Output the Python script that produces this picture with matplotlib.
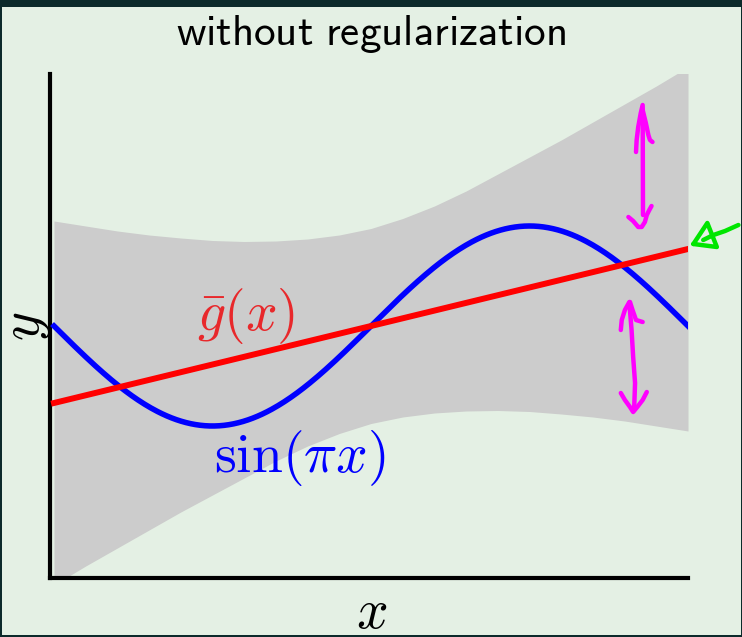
import numpy as np
import matplotlib
matplotlib.use("Agg")
import matplotlib.pyplot as plt
from matplotlib.patches import Rectangle

plt.rcParams['mathtext.fontset'] = 'cm'

# curves on x in [-1, 1]
x_band = np.round(np.arange(-1.0, 1.01, 0.1), 2)
band_upper = [1.05, 1.00, 0.95, 0.91, 0.88, 0.855, 0.845, 0.85, 0.87, 0.91, 0.975,
              1.075, 1.20, 1.35, 1.52, 1.69, 1.86, 2.04, 2.22, 2.40, 2.59]
band_lower = [-2.59, -2.40, -2.22, -2.04, -1.86, -1.69, -1.52, -1.35, -1.20, -1.075, -0.975,
              -0.91, -0.87, -0.85, -0.845, -0.855, -0.88, -0.91, -0.95, -1.00, -1.05]
gbar_x = [-1.0, 1.0]
gbar_y = [-0.77, 0.77]

# hand-drawn pen strokes (data coords)
strokes_magenta = [
    [(0.857, 2.19), (0.858, 1.11)],
    [(0.836, 1.74), (0.838, 1.86), (0.843, 1.99), (0.851, 2.13), (0.857, 2.21)],
    [(0.857, 2.16), (0.867, 2.03), (0.875, 1.91), (0.880, 1.86), (0.888, 1.84)],
    [(0.812, 1.09), (0.827, 1.05), (0.843, 0.99), (0.854, 0.99), (0.864, 1.04),
     (0.870, 1.11), (0.878, 1.16), (0.885, 1.20)],
    [(0.815, 0.23), (0.822, -0.04), (0.827, -0.31), (0.833, -0.57), (0.830, -0.84)],
    [(0.788, -0.04), (0.791, 0.06), (0.801, 0.16), (0.815, 0.24)],
    [(0.817, 0.24), (0.825, 0.16), (0.836, 0.06), (0.857, 0.04)],
    [(0.788, -0.67), (0.801, -0.74), (0.817, -0.81), (0.827, -0.86), (0.840, -0.81),
     (0.857, -0.74), (0.870, -0.66)],
]
strokes_green = [
    [(1.159, 1.01), (1.117, 0.95), (1.080, 0.91), (1.048, 0.86)],
    [(1.017, 0.82), (1.061, 1.03), (1.091, 0.79), (1.017, 0.82)],
]

bg = '#e4f0e4'
fig = plt.figure(figsize=(7.42, 6.37), dpi=100, facecolor='#0c2a2b')
fig.patches.append(Rectangle((2 / 742, 2 / 637), 739 / 742, 628 / 637,
                             transform=fig.transFigure, facecolor=bg,
                             edgecolor='none', zorder=-1))

ax = fig.add_axes([50 / 742, 59 / 637, 638 / 742, 504 / 637])
ax.set_facecolor(bg)

xs = np.linspace(-1, 1, 400)
ax.fill_between(x_band, band_lower, band_upper, color='#cccccc', lw=0, zorder=1)
ax.plot(xs, np.sin(np.pi * xs), color='#0000ff', lw=4.0, zorder=3)
ax.plot(gbar_x, gbar_y, color='#ff0000', lw=4.3, zorder=4)

ax.text(-0.55, -0.04, r'$\bar{g}(x)$', color='#e8282b', fontsize=40,
        ha='left', va='baseline')
ax.text(-0.495, -1.465, r'$\sin(\pi x)$', color='#0000ff', fontsize=40,
        ha='left', va='baseline')

for s in strokes_magenta:
    px, py = zip(*s)
    ax.plot(px, py, color='#ff00ff', lw=3.2, solid_capstyle='round',
            solid_joinstyle='round', zorder=5, clip_on=False)
for s in strokes_green:
    px, py = zip(*s)
    ax.plot(px, py, color='#00e600', lw=3.2, solid_capstyle='round',
            solid_joinstyle='round', zorder=5, clip_on=False)

ax.set_xlim(-1.0126, 1.0)
ax.set_ylim(-2.52, 2.52)
ax.set_xticks([])
ax.set_yticks([])
for side in ['top', 'right']:
    ax.spines[side].set_visible(False)
for side in ['left', 'bottom']:
    ax.spines[side].set_linewidth(3.0)
    ax.spines[side].set_color('black')

fig.text(371 / 742, 1 - 45 / 637, r'$\mathsf{without\ regularization}$',
         fontsize=31, ha='center', va='baseline')
fig.text(372 / 742, 1 - 613 / 637, r'$x$', fontsize=40, ha='center', va='center')
fig.text(25 / 742, 1 - 326 / 637, r'$y$', fontsize=40, ha='center', va='center',
         rotation=90)

fig.savefig('out.png', dpi=100, facecolor=fig.get_facecolor())
